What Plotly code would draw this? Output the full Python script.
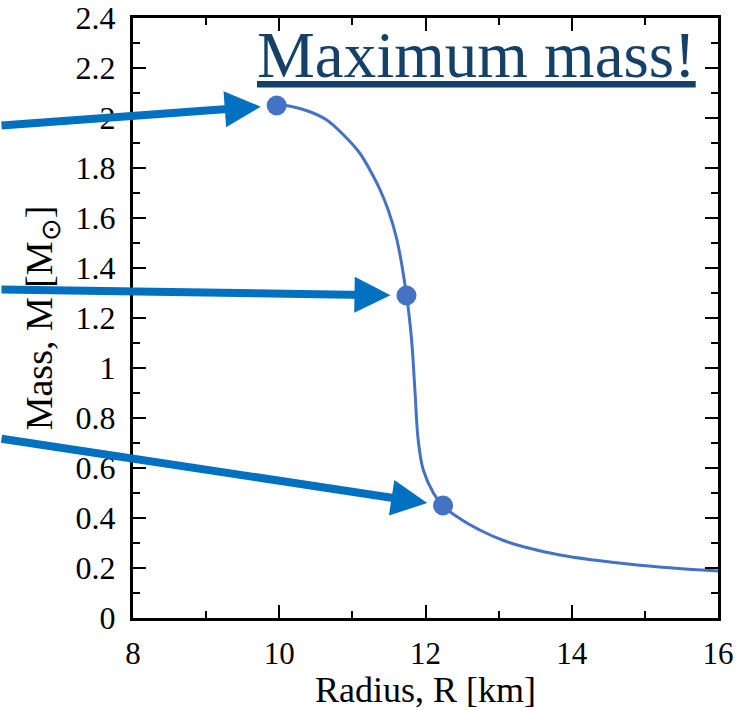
import plotly.graph_objects as go

# Mass-radius curve
radius_km = [9.965, 10.15, 10.42, 10.65, 10.88, 11.10, 11.29, 11.38, 11.49, 11.61,
             11.74, 11.81, 11.855, 11.90, 11.97, 12.11, 12.24, 12.50, 12.79, 13.05,
             13.34, 13.84, 14.30, 14.93, 15.50, 16.0]
mass_msun = [2.052, 2.047, 2.025, 1.992, 1.932, 1.860, 1.765, 1.712, 1.632, 1.512,
             1.292, 1.112, 0.912, 0.712, 0.592, 0.499, 0.448, 0.392, 0.345, 0.312,
             0.285, 0.252, 0.232, 0.211, 0.197, 0.188]

# Highlighted stars
star_r = [9.965, 11.74, 12.24]
star_m = [2.05, 1.29, 0.45]
# arrow tail offsets (pixels) for each highlighted star
arrow_ax = [-290, -420, -460]
arrow_ay = [20, -6, -67]

x_ticks = [8, 10, 12, 14, 16]
y_ticks = [0, 0.2, 0.4, 0.6, 0.8, 1, 1.2, 1.4, 1.6, 1.8, 2, 2.2, 2.4]

FONT = "Liberation Serif"
curve_col = "#4472C4"
arrow_col = "#0070C0"

fig = go.Figure()
fig.add_trace(go.Scatter(x=radius_km, y=mass_msun, mode="lines",
                         line=dict(color=curve_col, width=3, shape="spline", smoothing=1),
                         hoverinfo="skip", showlegend=False))
fig.add_trace(go.Scatter(x=star_r, y=star_m, mode="markers",
                         marker=dict(color=curve_col, size=20),
                         showlegend=False))

for r, m, ax, ay in zip(star_r, star_m, arrow_ax, arrow_ay):
    fig.add_annotation(x=r, y=m, xref="x", yref="y", ax=ax, ay=ay,
                       text="", showarrow=True, arrowhead=2, arrowsize=0.9,
                       arrowwidth=8, arrowcolor=arrow_col, standoff=16)

fig.add_annotation(x=0.208, y=0.938, xref="paper", yref="paper",
                   xanchor="left", yanchor="middle", showarrow=False,
                   text="Maximum mass!",
                   font=dict(family=FONT, size=65, color="#154168", lineposition="under"))

axis_common = dict(showline=True, linecolor="black", linewidth=3, mirror="ticks",
                   ticks="inside", ticklen=13, tickwidth=2, tickcolor="black",
                   showgrid=False, zeroline=False, automargin=False)

fig.update_xaxes(range=[8, 16], tickvals=x_ticks, ticklabelstandoff=6,
                 tickfont=dict(family=FONT, size=31, color="black"),
                 minor=dict(ticks="inside", ticklen=7, tickwidth=2, dtick=1, tickcolor="black"),
                 title=dict(text="Radius, R [km]", font=dict(family=FONT, size=36, color="black"),
                            standoff=3),
                 **axis_common)
fig.update_yaxes(range=[0, 2.4], tickvals=y_ticks, ticklabelstandoff=8,
                 tickfont=dict(family=FONT, size=32, color="black"),
                 minor=dict(ticks="inside", ticklen=7, tickwidth=2, dtick=0.1, tickcolor="black"),
                 title=dict(text="Mass, M [M<sub>⊙</sub>]", font=dict(family=FONT, size=38, color="black"),
                            standoff=12),
                 **axis_common)

fig.update_layout(width=753, height=710, margin=dict(l=133, r=35, t=18, b=92),
                  plot_bgcolor="white", paper_bgcolor="white")

fig.write_html("out.html")
